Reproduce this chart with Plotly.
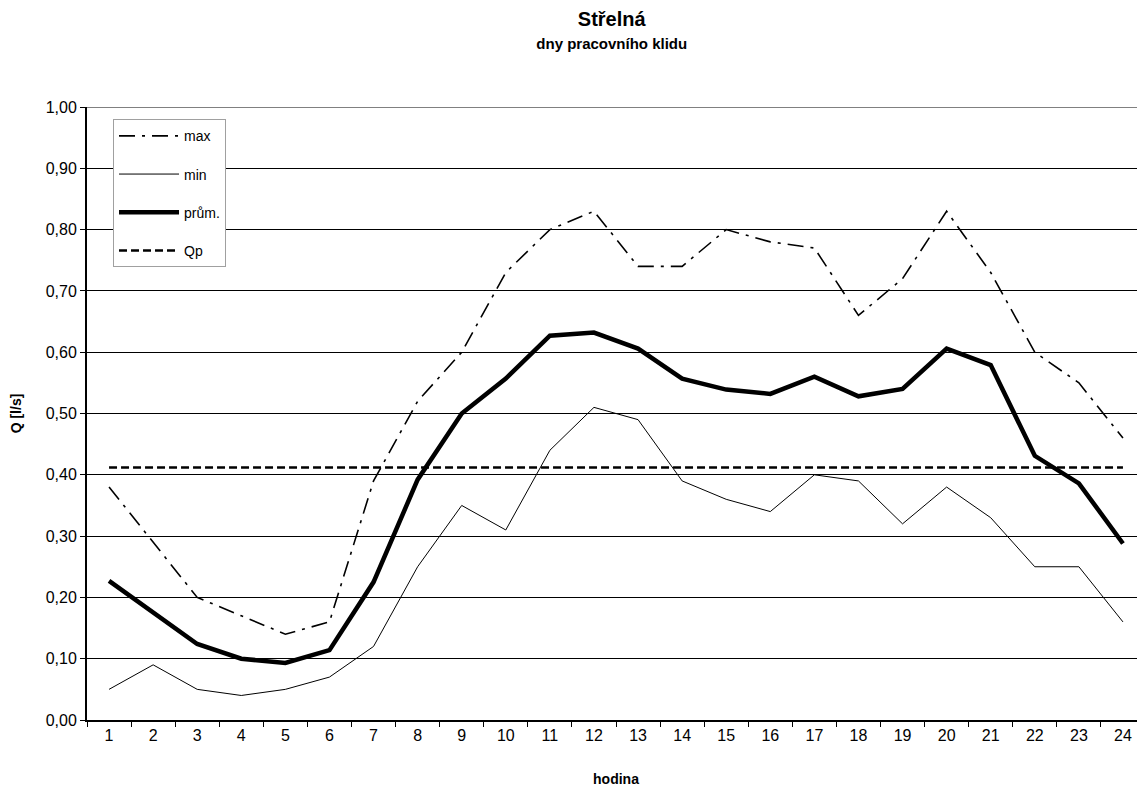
import plotly.graph_objects as go

# hours 1..24 (category axis)
hodiny = [str(h) for h in range(1, 25)]

q_max = [0.38, 0.29, 0.20, 0.17, 0.14, 0.16, 0.39, 0.52, 0.60, 0.73, 0.80, 0.83,
         0.74, 0.74, 0.80, 0.78, 0.77, 0.66, 0.72, 0.83, 0.73, 0.60, 0.55, 0.46]
q_min = [0.05, 0.09, 0.05, 0.04, 0.05, 0.07, 0.12, 0.25, 0.35, 0.31, 0.44, 0.51,
         0.49, 0.39, 0.36, 0.34, 0.40, 0.39, 0.32, 0.38, 0.33, 0.25, 0.25, 0.16]
q_prum = [0.227, 0.175, 0.124, 0.100, 0.093, 0.114, 0.225, 0.392, 0.500, 0.557, 0.627, 0.632,
          0.606, 0.557, 0.539, 0.532, 0.560, 0.528, 0.540, 0.606, 0.579, 0.431, 0.386, 0.288]
q_p = 0.412

FONT = "Liberation Sans, Arial, sans-serif"

fig = go.Figure()
fig.add_trace(go.Scatter(
    x=hodiny, y=q_max, name="max", mode="lines", legendgroup="a",
    line=dict(color="black", width=1.6, dash="16px,7px,3px,7px"),
))
fig.add_trace(go.Scatter(
    x=hodiny, y=q_min, name="min", mode="lines", legendgroup="b",
    line=dict(color="black", width=1),
))
fig.add_trace(go.Scatter(
    x=hodiny, y=q_prum, name="prům.", mode="lines", legendgroup="c",
    line=dict(color="black", width=4.5),
))
fig.add_trace(go.Scatter(
    x=hodiny, y=[q_p] * len(hodiny), name="Qp", mode="lines", legendgroup="d",
    line=dict(color="black", width=2.5, dash="8px,4px"),
))

# grey top border of the plot area
fig.add_shape(type="line", xref="paper", yref="y", x0=0, x1=1, y0=1, y1=1,
              line=dict(color="#808080", width=2))

# the page body adds an 8px margin, so the figure is 8px smaller than the window
fig.update_layout(
    width=1137, height=779,
    paper_bgcolor="white", plot_bgcolor="white",
    font=dict(family=FONT, color="black", size=15),
    separators=", ",
    margin=dict(l=79, r=0, t=99, b=67, autoexpand=False),
    title=dict(
        text=("<span style='font-size:20px'><b>Střelná</b></span><br>"
              "<span style='font-size:15px'><b>dny pracovního klidu</b></span>"),
        x=0.531, xanchor="center", y=0.977, yanchor="top",
        font=dict(size=18, family=FONT),
    ),
    xaxis=dict(
        type="category", range=[-0.5, 23.5], tickson="boundaries",
        ticks="outside", ticklen=5, tickwidth=1, tickcolor="black",
        showline=True, linecolor="black", linewidth=2, showgrid=False,
        tickfont=dict(size=16), zeroline=False, automargin=False,
        title=dict(text="<b>hodina</b>", font=dict(size=14), standoff=31),
    ),
    yaxis=dict(
        range=[0, 1], dtick=0.1, tickformat=".2f",
        ticks="outside", ticklen=5, tickwidth=1, tickcolor="black",
        showline=True, linecolor="black", linewidth=2,
        showgrid=True, gridcolor="black", gridwidth=1, zeroline=False,
        tickfont=dict(size=16), automargin=False,
        title=dict(text="<b>Q [l/s]</b>", font=dict(size=14), standoff=23),
    ),
    legend=dict(
        x=0.0246, y=0.98, xanchor="left", yanchor="top",
        bgcolor="white", bordercolor="#a0a0a0", borderwidth=1,
        font=dict(size=14), tracegroupgap=17, itemwidth=60,
    ),
    showlegend=True,
)

fig.write_html("out.html")
